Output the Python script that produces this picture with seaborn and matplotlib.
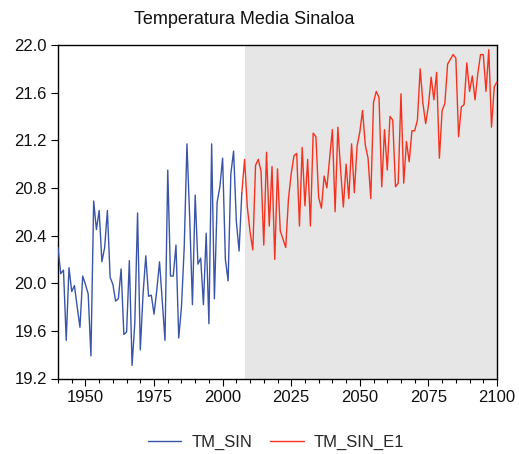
import numpy as np
import pandas as pd
import matplotlib
matplotlib.use("Agg")
import matplotlib.pyplot as plt
import seaborn as sns
from matplotlib.ticker import MultipleLocator

sns.set_theme(style="white")
plt.rcParams['font.family'] = ['Liberation Sans', 'DejaVu Sans']

# observed series 1940-2007
obs_years = list(range(1940, 2008))
tm_sin = [20.30, 20.08, 20.11, 19.52, 20.13, 19.93, 19.98, 19.80, 19.63, 20.06,
          19.99, 19.91, 19.39, 20.69, 20.45, 20.61, 20.18, 20.30, 20.61, 20.05,
          19.99, 19.85, 19.87, 20.12, 19.57, 19.59, 20.19, 19.31, 19.67, 20.59,
          19.44, 19.91, 20.23, 19.89, 19.90, 19.74, 19.94, 20.18, 19.85, 19.52,
          20.95, 20.06, 20.06, 20.32, 19.54, 19.80, 20.30, 21.17, 20.55, 19.82,
          20.74, 20.16, 20.21, 19.82, 20.42, 19.66, 21.17, 19.87, 20.68, 20.81,
          21.05, 20.20, 20.02, 20.92, 21.11, 20.52, 20.27, 20.76]

# projected series 2007-2100
proj_years = list(range(2007, 2101))
tm_sin_e1 = [20.76, 21.04, 20.64, 20.43, 20.28, 20.99, 21.04, 20.94, 20.32, 21.10,
             20.48, 20.98, 20.20, 20.96, 20.44, 20.37, 20.30, 20.71, 20.92, 21.07,
             21.09, 20.48, 21.14, 20.65, 21.04, 20.48, 21.26, 21.23, 20.72, 20.63,
             20.90, 20.80, 21.05, 21.29, 20.60, 21.31, 20.95, 20.64, 21.00, 20.71,
             21.17, 20.76, 21.15, 21.27, 21.45, 21.16, 21.05, 20.71, 21.52, 21.61,
             21.56, 20.81, 21.29, 20.95, 21.40, 21.37, 20.81, 20.84, 21.59, 20.84,
             21.19, 21.02, 21.28, 21.28, 21.37, 21.80, 21.51, 21.34, 21.49, 21.73,
             21.54, 21.77, 21.05, 21.45, 21.51, 21.84, 21.88, 21.92, 21.89, 21.23,
             21.48, 21.50, 21.85, 21.61, 21.74, 21.54, 21.76, 21.92, 21.92, 21.61,
             21.96, 21.31, 21.65, 21.69]

forecast_start, forecast_end = 2008, 2100
x_ticks = [1950, 1975, 2000, 2025, 2050, 2075, 2100]
y_ticks = [19.2, 19.6, 20.0, 20.4, 20.8, 21.2, 21.6, 22.0]

df_obs = pd.DataFrame({"year": obs_years, "value": tm_sin})
df_proj = pd.DataFrame({"year": proj_years, "value": tm_sin_e1})

fig = plt.figure(figsize=(5.19, 4.54), dpi=100)
ax = fig.add_axes([58/519, 1 - 378.5/454, (497-58)/519, (378.5-45)/454])

ax.axvspan(forecast_start, forecast_end, color="#e6e6e6", lw=0, zorder=0)
sns.lineplot(data=df_obs, x="year", y="value", ax=ax, color="#3a55a8",
             lw=1.0, label="TM_SIN", zorder=3)
sns.lineplot(data=df_proj, x="year", y="value", ax=ax, color="#f5321f",
             lw=1.0, label="TM_SIN_E1", zorder=4)

ax.set_xlim(1940, 2100)
ax.set_ylim(19.2, 22.0)
ax.set_xticks(x_ticks)
ax.set_xticklabels([str(t) for t in x_ticks])
ax.xaxis.set_minor_locator(MultipleLocator(5))
ax.set_yticks(y_ticks)
ax.set_yticklabels([f"{t:.1f}" for t in y_ticks])
ax.set_xlabel("")
ax.set_ylabel("")
ax.tick_params(axis="both", which="major", direction="out", length=5, width=0.8,
               color="black", labelsize=12, labelcolor="#111111", pad=3,
               bottom=True, left=True)
ax.tick_params(axis="x", which="minor", direction="out", length=3, width=0.8,
               color="black", bottom=True)
for s in ax.spines.values():
    s.set_color("black")
    s.set_linewidth(1.0)

ax.get_legend().remove()
handles, labels = ax.get_legend_handles_labels()
fig.legend(handles, labels, loc="center", bbox_to_anchor=(276/519, 1 - 442/454),
           ncol=2, frameon=False, fontsize=12, handlelength=2.0,
           handletextpad=0.6, columnspacing=1.1)

fig.text(244/519, 1 - 20/454, "Temperatura Media Sinaloa", ha="center",
         va="center", fontsize=13, color="#111111")

fig.savefig("out.png", dpi=100)
